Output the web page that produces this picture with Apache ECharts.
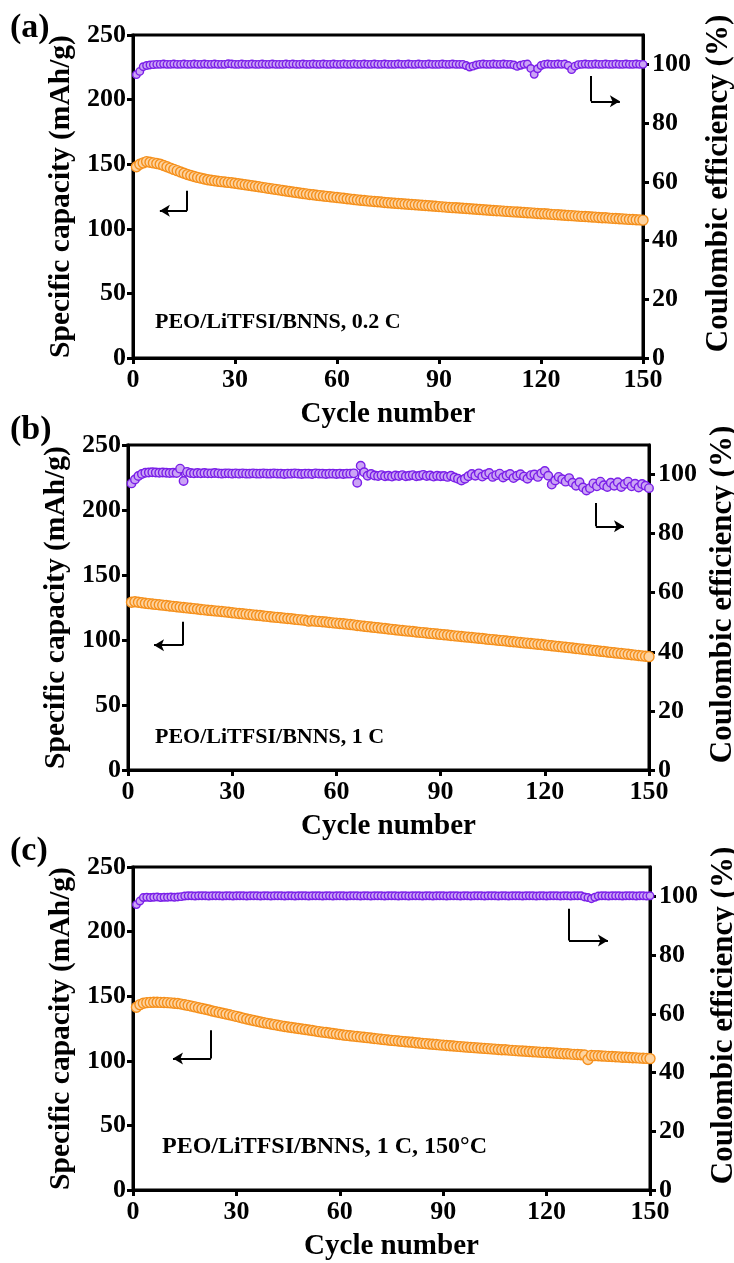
<!DOCTYPE html>
<html><head><meta charset="utf-8">
<script src="https://cdn.jsdelivr.net/npm/echarts@6/dist/echarts.min.js"></script>
<style>html,body{margin:0;padding:0;background:#fff}#c{width:734px;height:1263px}</style>
</head><body><div id="c"></div>
<script>
// ---------- data ----------
const panelLabels = ['(a)', '(b)', '(c)'];
const conditionTexts = ['PEO/LiTFSI/BNNS, 0.2 C', 'PEO/LiTFSI/BNNS, 1 C', 'PEO/LiTFSI/BNNS, 1 C, 150\u00B0C'];
const xName = 'Cycle number';
const leftName = 'Specific capacity (mAh/g)';
const rightName = 'Coulombic efficiency (%)';
const xTicks = [0, 30, 60, 90, 120, 150];
const capTicks = [0, 50, 100, 150, 200, 250];
const ceTicks = [0, 20, 40, 60, 80, 100];

const capA = [148,150,151,152,151.5,151,150.5,150,149,148,
147,146,145,144,143,142,141.2,140.5,139.8,139.2,
138.6,138,137.6,137.2,136.8,136.5,136.2,135.9,135.6,135.3,
134.9,134.5,134.1,133.7,133.3,132.9,132.5,132.1,131.7,131.3,
130.9,130.5,130.1,129.7,129.3,128.9,128.5,128.1,127.7,127.3,
127,126.6,126.3,126,125.7,125.4,125.1,124.8,124.5,124.2,
123.9,123.6,123.3,123,122.7,122.4,122.1,121.9,121.6,121.4,
121.1,120.9,120.7,120.4,120.2,120,119.8,119.6,119.4,119.2,
119,118.8,118.6,118.4,118.2,118,117.8,117.6,117.4,117.2,
117,116.8,116.6,116.4,116.3,116.1,115.9,115.7,115.5,115.3,
115.1,114.9,114.8,114.6,114.4,114.2,114,113.9,113.7,113.5,
113.3,113.1,113,112.8,112.6,112.4,112.3,112.1,111.9,111.7,
111.6,111.4,111.2,111,110.9,110.7,110.5,110.3,110.2,110,
109.8,109.6,109.5,109.3,109.1,109,108.8,108.6,108.5,108.3,
108.1,108,107.8,107.7,107.5,107.3,107.2,107,106.9,106.7];

const ceA = [96.5,97.6,99.2,99.6,99.8,99.9,100,100,100.1,100,
100,100.1,100,100,100.1,100,100,100.1,100,100,
100.1,100,100,100.1,100,100,100,100.2,100.1,100,
100,100.1,100,100,100.1,100,100,100.1,100,100,
100.1,100,100,100,100.1,100,100.1,100,100,100.1,
100,100,100.1,100,100,100.1,100,100,100.1,100,
100,100.1,100,100,100.1,100,100,100.1,100,100,
100.1,100,100,100.1,100,100,100,100.1,100,100,
100.1,100,100,100.1,100,100,100.1,100,100,100,
100.1,100,100,100.1,100,100,100,99.6,99.1,99.4,
99.8,100,100.1,100,100,100.1,100,100,100.1,100,
100,99.8,99.3,99.7,100,100.1,98.6,96.6,98.5,99.6,
100,100.1,100,100,100.1,100,100.1,99.6,98.2,99.4,
99.9,100,100.1,100,100,100.1,100,100,100.1,100,
100,100.1,100,100,100.1,100,100,100.1,100,100];

const capB = [129,129.4,129,128.6,128.3,128,127.7,127.4,127.1,126.8,
126.5,126.2,125.9,125.6,125.3,125,124.7,124.4,124.1,123.8,
123.5,123.2,122.9,122.7,122.4,122.2,121.9,121.6,121.3,121,
120.7,120.4,120.2,119.9,119.6,119.3,119,118.8,118.5,118.2,
117.9,117.6,117.4,117.1,116.8,116.5,116.3,116,115.7,115.5,
115.2,114.5,114.8,114.5,114.3,114,113.8,113.5,113.2,113,
112.7,112.5,112.2,111.9,111.6,111.2,110.9,110.6,110.3,110,
109.7,109.4,109.1,108.8,108.5,108.2,107.9,107.6,107.3,107,
106.8,106.5,106.2,105.9,105.7,105.4,105.1,104.9,104.6,104.3,
104,103.8,103.5,103.2,103,102.7,102.4,102.2,101.9,101.6,
101.3,101.1,100.8,100.5,100.3,100,99.7,99.5,99.2,98.9,
98.6,98.4,98.1,97.8,97.6,97.3,97,96.7,96.5,96.2,
95.9,95.6,95.3,95,94.7,94.4,94.1,93.8,93.5,93.2,
92.9,92.6,92.3,92,91.7,91.4,91.1,90.8,90.5,90.2,
89.9,89.6,89.3,89,88.7,88.4,88.1,87.8,87.5,87.2];

const ceB = [97.0,98.3,99.5,100.2,100.6,100.7,100.8,100.7,100.6,100.7,
100.6,100.5,100.6,100.5,102.0,97.8,100.9,100.5,100.4,100.5,
100.4,100.5,100.4,100.4,100.5,100.4,100.3,100.4,100.4,100.3,
100.4,100.3,100.4,100.3,100.3,100.4,100.3,100.3,100.4,100.3,
100.3,100.4,100.3,100.3,100.2,100.3,100.3,100.4,100.3,100.2,
100.3,100.3,100.2,100.4,100.3,100.3,100.2,100.3,100.3,100.2,
100.3,100.2,100.3,100.3,100.4,97.2,103.0,100.8,99.6,100.2,
99.7,99.5,99.8,99.4,99.6,99.3,99.7,99.5,99.8,99.4,
99.6,99.8,99.4,99.6,99.9,99.5,99.7,99.3,99.6,99.4,
99.5,99.2,99.6,99.0,98.6,98.0,98.6,99.4,100.2,99.6,
100.4,99.3,100.0,100.5,99.2,99.8,100.3,99.0,99.7,100.2,
98.8,99.6,100.1,99.3,98.6,99.8,100.0,99.2,100.4,101.2,
99.6,96.6,98.0,99.2,98.4,97.6,98.8,97.2,96.2,97.4,
95.6,94.6,95.4,97.0,96.0,97.6,96.4,95.8,97.2,96.2,
97.4,95.8,96.8,97.6,96.0,96.9,95.6,96.8,96.2,95.4];

const capC = [141.5,143.5,144.5,145,145.2,145.3,145.3,145.2,145.1,145,
144.8,144.6,144.3,143.9,143.4,142.9,142.3,141.7,141.1,140.5,
139.9,139.3,138.6,138,137.4,136.8,136.2,135.6,135,134.4,
133.7,133.0,132.4,131.8,131.2,130.6,130.0,129.5,129.0,128.5,
128.0,127.5,127.0,126.6,126.2,125.8,125.4,125.0,124.6,124.2,
123.8,123.4,123.0,122.6,122.2,121.9,121.5,121.1,120.7,120.4,
120.0,119.7,119.4,119.1,118.8,118.5,118.2,117.9,117.6,117.3,
117.0,116.7,116.4,116.1,115.8,115.6,115.3,115.0,114.8,114.5,
114.3,114.0,113.8,113.5,113.3,113.0,112.8,112.6,112.3,112.1,
111.9,111.7,111.4,111.2,111.0,110.8,110.6,110.4,110.2,110.0,
109.8,109.6,109.4,109.2,109.0,108.8,108.6,108.5,108.3,108.1,
107.9,107.7,107.6,107.4,107.2,107.0,106.9,106.7,106.5,106.4,
106.2,106.0,105.9,105.7,105.5,105.4,105.2,105.0,104.9,104.7,
104.5,101.0,104.2,104.0,103.9,103.7,103.6,103.4,103.3,103.1,
103.0,102.8,102.7,102.6,102.4,102.3,102.1,102.0,101.9,101.7];

const ceC = [97.2,98.4,99.6,99.7,99.6,99.7,99.8,99.6,99.7,99.7,
99.8,99.7,99.8,99.9,100.1,100.2,100.2,100.1,100.2,100.2,
100.2,100.1,100.2,100.2,100.2,100.1,100.2,100.2,100.1,100.2,
100.2,100.2,100.1,100.2,100.2,100.2,100.1,100.2,100.2,100.1,
100.2,100.2,100.2,100.1,100.2,100.2,100.1,100.2,100.2,100.2,
100.1,100.2,100.2,100.2,100.1,100.2,100.2,100.1,100.2,100.2,
100.2,100.1,100.2,100.2,100.2,100.1,100.2,100.2,100.1,100.2,
100.2,100.2,100.1,100.2,100.2,100.2,100.1,100.2,100.2,100.1,
100.2,100.2,100.2,100.1,100.2,100.2,100.1,100.2,100.2,100.2,
100.1,100.2,100.2,100.2,100.1,100.2,100.2,100.1,100.2,100.2,
100.2,100.1,100.2,100.2,100.2,100.1,100.2,100.2,100.1,100.2,
100.2,100.2,100.1,100.2,100.2,100.2,100.1,100.2,100.2,100.1,
100.2,100.2,100.2,100.1,100.2,100.2,100.1,100.2,100.2,100.2,
99.8,99.6,99.2,99.7,100.1,100.2,100.2,100.1,100.2,100.2,
100.2,100.1,100.2,100.2,100.2,100.1,100.2,100.2,100.1,100.2];

// arrow annotation anchor points in data units: [xCorner, yStart, yCorner, xEnd]
const capArrows = [[15.9,129.5,114,7.9],[15.8,114,96,7.5],[22.6,123.7,101.8,11.6]];
const ceArrows  = [[134.7,96,87.4,143.2],[134.7,90.4,82.5,142.8],[126.5,95.8,85,137.8]];

const capSeries = [capA, capB, capC];
const ceSeries = [ceA, ceB, ceC];

// ---------- layout ----------
const FONT = "'Liberation Serif','Times New Roman',serif";
const grids = [
  {left:133, top:35, width:510, height:323},
  {left:128, top:445, width:521, height:325},
  {left:133, top:867, width:517, height:323}
];
const rightNameGap = [60, 55, 54];
const labelY = [30, 432, 853];
const condPos = [[155,322],[155,737],[162,1147]];
const condSize = [22, 22, 24];

function pairs(arr){ return arr.map((v,i)=>[i+1, v]); }
function arrowML(a){
  return {
    silent:true, animation:false,
    lineStyle:{color:'#000', width:2, type:'solid'},
    label:{show:false},
    symbolSize:[10,10],
    data:[
      [{coord:[a[0],a[1]], symbol:'none'},{coord:[a[0],a[2]], symbol:'none'}],
      [{coord:[a[0],a[2]], symbol:'none'},{coord:[a[3],a[2]], symbol:'arrow', symbolSize:[9,10]}]
    ]
  };
}

const axisLineStyle = {show:true, lineStyle:{color:'#000', width:3}};
const tickStyle = {show:true, inside:false, length:6, lineStyle:{color:'#000', width:3}};
const labStyle = {color:'#000', fontFamily:FONT, fontWeight:'bold', fontSize:26};

const xAxis = [], yAxis = [], series = [], graphic = [];
grids.forEach((g, p)=>{
  xAxis.push({
    type:'value', gridIndex:p, min:0, max:150, interval:30,
    name:xName, nameLocation:'middle', nameGap:42,
    nameTextStyle:{color:'#000', fontFamily:FONT, fontWeight:'bold', fontSize:29},
    axisLine:axisLineStyle, axisTick:tickStyle,
    axisLabel:Object.assign({margin:9}, labStyle),
    splitLine:{show:false}
  });
  yAxis.push({
    type:'value', gridIndex:p, position:'left', min:0, max:250, interval:50,
    name:leftName, nameLocation:'middle', nameGap:57,
    nameTextStyle:{color:'#000', fontFamily:FONT, fontWeight:'bold', fontSize:29.5},
    axisLine:axisLineStyle, axisTick:tickStyle,
    axisLabel:Object.assign({margin:7}, labStyle),
    splitLine:{show:false}
  });
  yAxis.push({
    type:'value', gridIndex:p, position:'right', min:0, max:110,
    name:rightName, nameLocation:'middle', nameGap:rightNameGap[p],
    nameTextStyle:{color:'#000', fontFamily:FONT, fontWeight:'bold', fontSize:31, padding:[0,0,0,26]},
    axisLine:axisLineStyle,
    axisTick:Object.assign({customValues:ceTicks}, tickStyle),
    axisLabel:Object.assign({margin:9, customValues:ceTicks}, labStyle),
    splitLine:{show:false}
  });
  series.push({
    type:'line', xAxisIndex:p, yAxisIndex:2*p, data:pairs(capSeries[p]),
    symbol:'circle', symbolSize:10, showSymbol:true,
    lineStyle:{color:'#F28A1A', width:1.5},
    itemStyle:{color:'#FDD3A0', borderColor:'#F5901C', borderWidth:1.4},
    markLine:arrowML(capArrows[p]), z:3
  });
  series.push({
    type:'line', xAxisIndex:p, yAxisIndex:2*p+1, data:pairs(ceSeries[p]),
    symbol:'circle', symbolSize:p===1?8.5:7.5, showSymbol:true,
    lineStyle:{color:'#7A1FE8', width:1.5},
    itemStyle:{color:'#CBA4F5', borderColor:'#7A1FE8', borderWidth:1.4},
    markLine:arrowML(ceArrows[p]), z:3
  });
  graphic.push({type:'text', left:10, top:labelY[p]-19,
    style:{text:panelLabels[p], fill:'#000', font:"bold 34px "+FONT}});
  graphic.push({type:'text', x:condPos[p][0], y:condPos[p][1],
    style:{text:conditionTexts[p], fill:'#000', font:"bold "+condSize[p]+"px "+FONT, verticalAlign:'middle'}});
});

const chart = echarts.init(document.getElementById('c'), null, {renderer:'canvas'});
chart.setOption({
  animation:false,
  backgroundColor:'#fff',
  grid:grids.map(g=>Object.assign({show:true, borderColor:'#000', borderWidth:3, backgroundColor:'transparent', containLabel:false, outerBoundsMode:'none'}, g)),
  xAxis, yAxis, series, graphic
});
</script></body></html>
